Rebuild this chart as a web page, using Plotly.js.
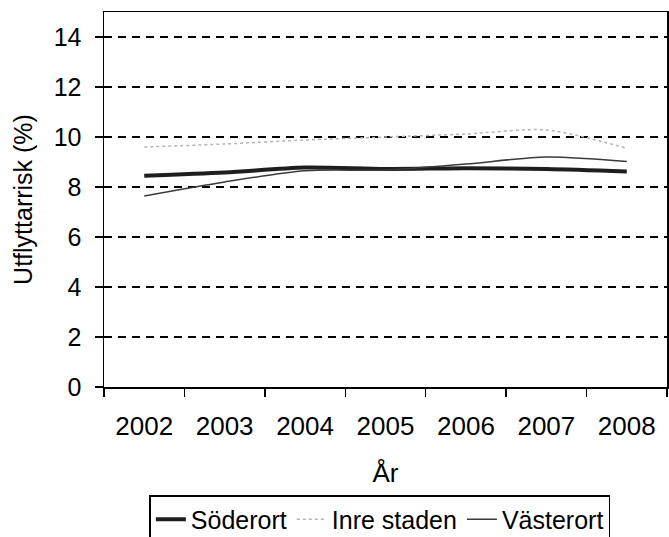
<!DOCTYPE html>
<html>
<head>
<meta charset="utf-8">
<script src="https://cdn.plot.ly/plotly-3.0.1.min.js"></script>
<style>html,body{margin:0;padding:0;background:#fff;}#chart{width:669px;height:537px;}</style>
</head>
<body>
<div id="chart"></div>
<script>
var years = ['2002', '2003', '2004', '2005', '2006', '2007', '2008'];
var soderort = [8.45, 8.58, 8.78, 8.72, 8.75, 8.72, 8.62];
var inreStaden = [9.6, 9.72, 9.88, 10.0, 10.12, 10.28, 9.55];
var vasterort = [7.64, 8.2, 8.65, 8.68, 8.92, 9.2, 9.02];
var yTicks = [0, 2, 4, 6, 8, 10, 12, 14];

var font = 'Liberation Sans, Arial, sans-serif';

var traces = [
  {x: years, y: soderort, name: 'Söderort', type: 'scatter', mode: 'lines',
   line: {color: '#1e1e1e', width: 4, shape: 'spline', smoothing: 0.8}},
  {x: years, y: inreStaden, name: 'Inre staden', type: 'scatter', mode: 'lines',
   line: {color: '#b4b4b4', width: 1.5, dash: 'dot', shape: 'spline', smoothing: 0.8}},
  {x: years, y: vasterort, name: 'Västerort', type: 'scatter', mode: 'lines',
   line: {color: '#3a3a3a', width: 1.5, shape: 'spline', smoothing: 0.8}}
];

var layout = {
  width: 669, height: 537,
  margin: {l: 104, r: 2, t: 12, b: 150, autoexpand: false},
  paper_bgcolor: '#fff', plot_bgcolor: '#fff',
  font: {family: font, color: '#000', size: 24},
  showlegend: true,
  xaxis: {
    type: 'category', range: [-0.5, 6.5],
    tickson: 'boundaries', ticks: 'outside', ticklen: 8, tickwidth: 1.5, tickcolor: '#000',
    showline: true, linecolor: '#000', linewidth: 1.5, mirror: true,
    showgrid: false, zeroline: false,
    tickfont: {size: 26, family: font},
    ticklabelstandoff: 15,
    title: {text: 'År', font: {size: 26, family: font}, standoff: 24}
  },
  yaxis: {
    range: [0, 15], tickvals: yTicks, ticktext: yTicks.map(String),
    ticks: 'outside', ticklen: 8, tickwidth: 1.5, tickcolor: '#000',
    showline: true, linecolor: '#000', linewidth: 1.5, mirror: true,
    showgrid: true, gridcolor: '#000', gridwidth: 1.5, griddash: '8px,6px',
    zeroline: false,
    tickfont: {size: 25, family: font},
    ticklabelstandoff: 8,
    title: {text: 'Utflyttarrisk (%)', font: {size: 25, family: font}, standoff: 14}
  },
  legend: {
    orientation: 'h', x: 0.49, xanchor: 'center', y: -0.288, yanchor: 'top',
    bordercolor: '#000', borderwidth: 1.5, bgcolor: '#fff',
    font: {size: 25, family: font}, itemwidth: 30, tracegroupgap: 0
  }
};

Plotly.newPlot('chart', traces, layout, {displayModeBar: false, staticPlot: true});
</script>
</body>
</html>
